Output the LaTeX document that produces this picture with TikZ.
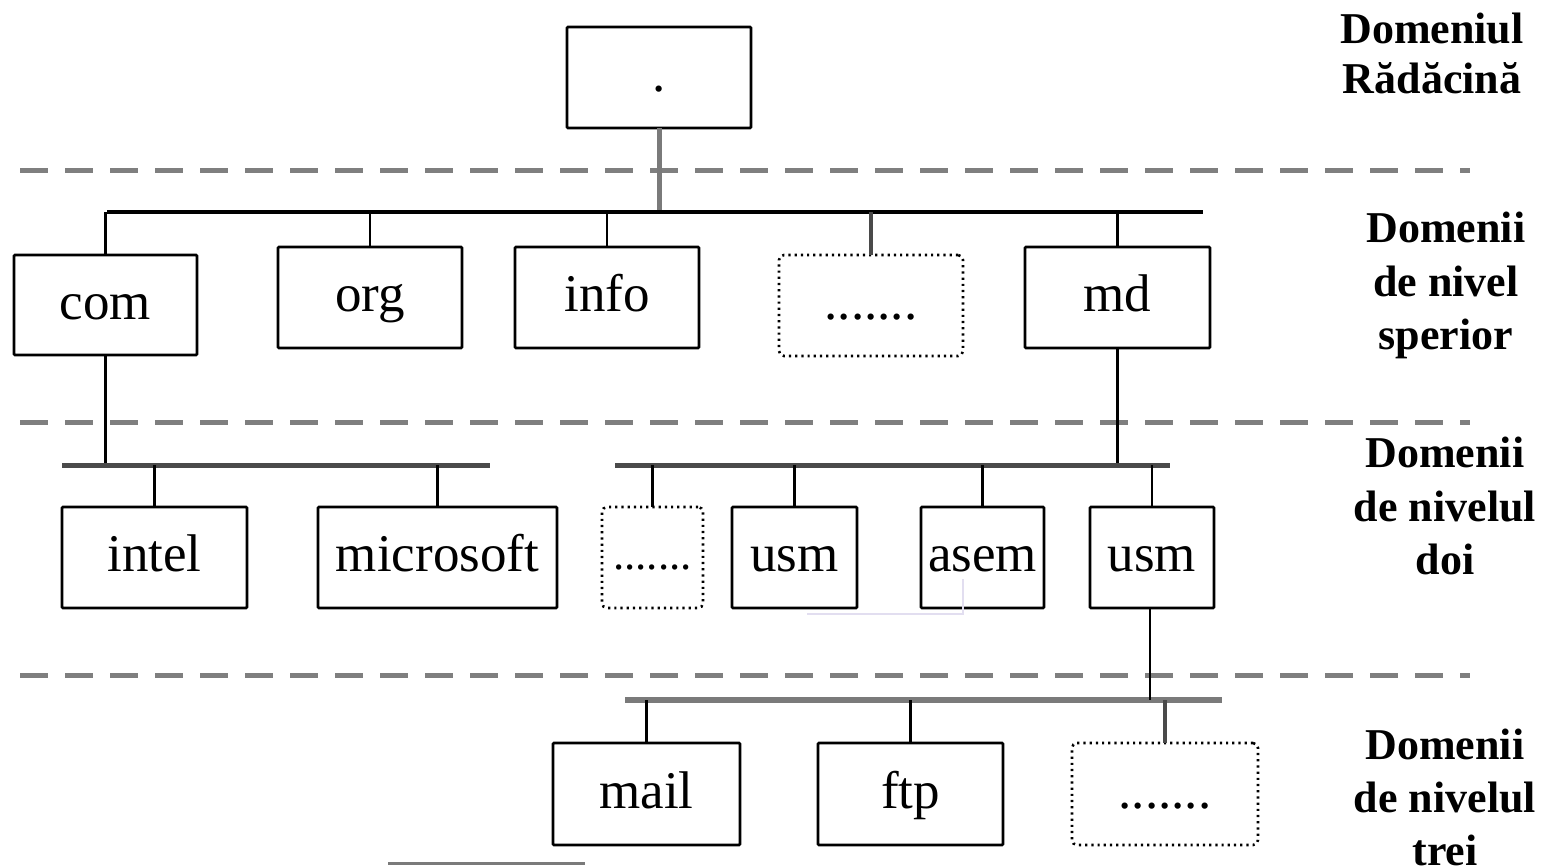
\documentclass[tikz,border=0pt]{standalone}
\usepackage{fontspec}
\setmainfont{Liberation Serif}
\definecolor{dashgray}{HTML}{7F7F7F}
\definecolor{busgray}{HTML}{4A4A4A}
\definecolor{lowgray}{HTML}{7A7A7A}
\definecolor{faint}{RGB}{226,222,240}
\begin{document}
\begin{tikzpicture}[x=1pt,y=-1pt,
  box/.style={draw=black,line width=2.8pt,inner sep=0pt,outer sep=0pt,rectangle,
    rounded corners=1pt,text height=28pt,text depth=0pt,
    font=\fontsize{53}{60}\selectfont},
  dbox/.style={box,line width=2.6pt,dash pattern=on 2.2pt off 4pt,rounded corners=5pt},
  sepline/.style={draw=dashgray,line width=5pt,dash pattern=on 28pt off 17pt},
  stub/.style={draw=black,line width=2.8pt},
  bus/.style={draw=black,line width=3.5pt},
  bus2/.style={draw=busgray,line width=5pt},
  bus3/.style={draw=lowgray,line width=6pt},
  lab/.style={inner sep=0pt,outer sep=0pt,align=center,anchor=north},
]
\useasboundingbox (0,0) rectangle (1548,867);
\fill[white] (0,0) rectangle (1548,867);

% separator lines
\coordinate (d1L) at (20,170); \coordinate (d1R) at (1470,170);
\coordinate (d2L) at (20,422); \coordinate (d2R) at (1470,422);
\coordinate (d3L) at (20,675); \coordinate (d3R) at (1470,675);
\draw[sepline] (d1L) -- (d1R);
\draw[sepline] (d2L) -- (d2R);
\draw[sepline] (d3L) -- (d3R);

% buses
\coordinate (b1L) at (107,212);  \coordinate (b1R) at (1203,212);
\coordinate (b2L) at (62,465);   \coordinate (b2R) at (490,465);
\coordinate (b3L) at (615,465);  \coordinate (b3R) at (1170,465);
\coordinate (b4L) at (625,700);  \coordinate (b4R) at (1222,700);

% boxes
\node[box,minimum width=184pt,minimum height=101pt] (root) at (659,77.5) {.};

\node[box,minimum width=183pt,minimum height=100pt] (com) at (105.5,305) {com};
\node[box,minimum width=184pt,minimum height=101pt] (org) at (370,297.5) {org};
\node[box,minimum width=184pt,minimum height=101pt] (info) at (607,297.5) {info};
\node[dbox,minimum width=184pt,minimum height=101pt] (dots1) at (871,305.5) {.......};
\node[box,minimum width=185pt,minimum height=101pt] (md) at (1117.5,297.5) {md};

\node[box,minimum width=185pt,minimum height=101pt] (intel) at (154.5,557.5) {intel};
\node[box,minimum width=239pt,minimum height=101pt] (microsoft) at (437.5,557.5) {microsoft};
\node[dbox,minimum width=101pt,minimum height=101pt,font=\fontsize{45}{50}\selectfont,text height=24pt] (dots2) at (652.5,557.5) {.......};
\node[box,minimum width=125pt,minimum height=101pt] (usm1) at (794.5,557.5) {usm};
\node[box,minimum width=123pt,minimum height=101pt] (asem) at (982.5,557.5) {asem};
\node[box,minimum width=124pt,minimum height=101pt] (usm2) at (1152,557.5) {usm};

\node[box,minimum width=187pt,minimum height=102pt] (mail) at (646.5,794) {mail};
\node[box,minimum width=185pt,minimum height=102pt] (ftp) at (910.5,794) {ftp};
\node[dbox,minimum width=186pt,minimum height=102pt] (dots3) at (1165,794) {.......};

% level 1
\draw[draw=lowgray,line width=5pt] (root.south) -- (root.south |- b1L);
\draw[bus] (b1L) -- (b1R);
\draw[stub] (com.north) -- (com.north |- b1L);
\draw[stub] (org.north) -- (org.north |- b1L);
\draw[stub] (info.north) -- (info.north |- b1L);
\draw[draw=busgray,line width=4pt] (dots1.north) -- (dots1.north |- b1L);
\draw[stub] (md.north) -- (md.north |- b1L);

% level 2
\draw[stub] (com.south) -- (com.south |- b2L);
\draw[stub] (md.south) -- (md.south |- b3L);
\draw[bus2] (b2L) -- (b2R);
\draw[bus2] (b3L) -- (b3R);
\draw[stub] (intel.north) -- (intel.north |- b2L);
\draw[stub] (microsoft.north) -- (microsoft.north |- b2L);
\draw[stub] (dots2.north) -- (dots2.north |- b3L);
\draw[stub] (usm1.north) -- (usm1.north |- b3L);
\draw[stub] (asem.north) -- (asem.north |- b3L);
\draw[stub] (usm2.north) -- (usm2.north |- b3L);

% level 3
\draw[bus3] (b4L) -- (b4R);
\draw[stub] ([xshift=-2pt]usm2.south) -- ([xshift=-2pt]usm2.south |- b4L);
\draw[stub] (mail.north) -- (mail.north |- b4L);
\draw[stub] (ftp.north) -- (ftp.north |- b4L);
\draw[draw=busgray,line width=3.5pt] (dots3.north) -- (dots3.north |- b4L);

% faint marks
\coordinate (f1) at (807,614); \coordinate (f2) at (963,614); \coordinate (f3) at (963,579);
\draw[draw=faint,line width=2pt] (f1) -- (f2) -- (f3);
\coordinate (g1) at (388,863); \coordinate (g2) at (585,863);
\draw[draw=lowgray,line width=3pt] (g1) -- (g2);

% level labels
\node[lab,font=\fontsize{44}{50}\selectfont\bfseries] (lab0) at (1432,13) {Domeniul\\Rădăcină};
\node[lab,font=\fontsize{44}{53.5}\selectfont\bfseries] (lab1) at (1446,212) {Domenii\\de nivel\\sperior};
\node[lab,font=\fontsize{44}{53.5}\selectfont\bfseries] (lab2) at (1445,437) {Domenii\\de nivelul\\doi};
\node[lab,font=\fontsize{44}{53}\selectfont\bfseries] (lab3) at (1445,729) {Domenii\\de nivelul\\trei};
\end{tikzpicture}
\end{document}
